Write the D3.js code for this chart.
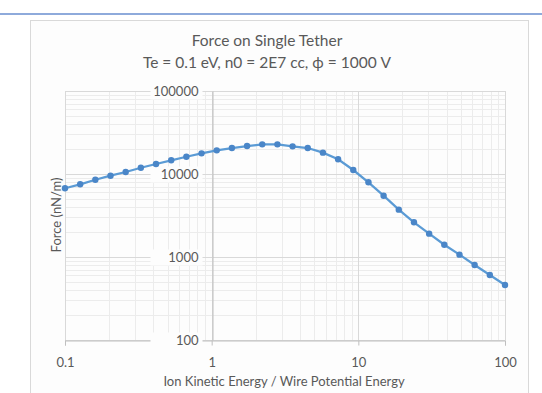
<!DOCTYPE html>
<html>
<head>
<meta charset="utf-8">
<script src="https://cdn.jsdelivr.net/npm/d3@7"></script>
<style>
  body { margin: 0; background: #fff; }
  text { font-family: Lato, "Open Sans", sans-serif; fill: #595959; }
</style>
</head>
<body>
<div id="container"></div>
<script>
// ratio of ion kinetic energy to wire potential energy
const energyRatio = [0.1, 0.1269, 0.161, 0.2043, 0.2593, 0.329, 0.4175, 0.5298, 0.6723, 0.8532,
  1.083, 1.374, 1.743, 2.212, 2.807, 3.562, 4.52, 5.736, 7.279, 9.237,
  11.72, 14.87, 18.87, 23.95, 30.39, 38.57, 48.94, 62.1, 78.8, 100];
// force, nN/m
const force = [6730, 7510, 8530, 9540, 10570, 11900, 13190, 14620, 16150, 17740,
  19280, 20550, 21730, 22760, 22760, 21520, 20550, 18070, 15030, 11170,
  7940, 5480, 3720, 2620, 1910, 1406, 1067, 802, 607, 460];
const xTicks = [0.1, 1, 10, 100];
const yTicks = [100, 1000, 10000, 100000];

var width = 542, height = 393;
var margin = { top: 91, right: 37, bottom: 53, left: 65 };

var svg = d3.select('#container').append('svg').attr('width', width).attr('height', height);

// top blue rule and chart frame
svg.append('rect').attr('x', 0).attr('y', 13).attr('width', width).attr('height', 2).attr('fill', '#8eaadb');
svg.append('rect').attr('x', 30.5).attr('y', 20.5).attr('width', 498).attr('height', 380)
  .attr('fill', '#fdfdfd').attr('stroke', '#d9d9d9');

var x = d3.scaleLog().domain([0.1, 100]).range([margin.left, width - margin.right]);
var y = d3.scaleLog().domain([100, 100000]).range([height - margin.bottom, margin.top]);

// minor grid
var minorX = [], minorY = [];
[0.1, 1, 10].forEach(function (d) { for (var k = 2; k < 10; k++) minorX.push(d * k); });
[100, 1000, 10000].forEach(function (d) { for (var k = 2; k < 10; k++) minorY.push(d * k); });

var grid = svg.append('g');
grid.selectAll('.mx').data(minorX).enter().append('line')
  .attr('x1', d => Math.round(x(d)) + 0.5).attr('x2', d => Math.round(x(d)) + 0.5)
  .attr('y1', y(100)).attr('y2', y(100000)).attr('stroke', '#ececec');
grid.selectAll('.my').data(minorY).enter().append('line')
  .attr('y1', d => Math.round(y(d)) + 0.5).attr('y2', d => Math.round(y(d)) + 0.5)
  .attr('x1', x(0.1)).attr('x2', x(100)).attr('stroke', '#ececec');
grid.selectAll('.Mx').data(xTicks).enter().append('line')
  .attr('x1', d => Math.round(x(d)) + 0.5).attr('x2', d => Math.round(x(d)) + 0.5)
  .attr('y1', y(100)).attr('y2', y(100000)).attr('stroke', '#d9d9d9');
grid.selectAll('.My').data(yTicks).enter().append('line')
  .attr('y1', d => Math.round(y(d)) + 0.5).attr('y2', d => Math.round(y(d)) + 0.5)
  .attr('x1', x(0.1)).attr('x2', x(100)).attr('stroke', '#d9d9d9');

// x axis along the bottom
var xAxis = d3.axisBottom(x).tickValues(xTicks).tickFormat(d3.format('')).tickSize(5).tickPadding(12);
var gx = svg.append('g').attr('transform', 'translate(0,' + (Math.round(y(100)) + 0.5) + ')').call(xAxis);
gx.select('.domain').attr('stroke', '#bfbfbf');
gx.selectAll('.tick line').attr('stroke', '#bfbfbf');
gx.selectAll('.tick text').style('font-size', '13px').style('fill', '#595959');

// y axis crosses at x = 1
var yAxis = d3.axisLeft(y).tickValues(yTicks).tickFormat(d3.format('')).tickSize(0).tickPadding(14);
var gy = svg.append('g').attr('transform', 'translate(' + (Math.round(x(1)) + 0.5) + ',0)').call(yAxis);
gy.select('.domain').attr('stroke', '#bfbfbf');
gy.selectAll('.tick text').style('font-size', '13px').style('fill', '#595959');
gy.selectAll('.tick').insert('rect', 'text')
  .attr('x', -62).attr('y', -8).attr('width', 52).attr('height', 16).attr('fill', '#fdfdfd');

// series
var line = d3.line().x((d, i) => x(energyRatio[i])).y(d => y(d));
svg.append('path').datum(force).attr('d', line).attr('fill', 'none')
  .attr('stroke', '#5b9bd5').attr('stroke-width', 2.25);
svg.selectAll('.dot').data(force).enter().append('circle')
  .attr('cx', (d, i) => x(energyRatio[i])).attr('cy', d => y(d)).attr('r', 3.2)
  .attr('fill', '#4a86c8');

// titles
svg.append('text').attr('x', 267).attr('y', 46).attr('text-anchor', 'middle')
  .style('font-size', '15.5px').text('Force on Single Tether');
svg.append('text').attr('x', 267).attr('y', 68).attr('text-anchor', 'middle')
  .style('font-size', '15.5px').text('Te = 0.1 eV, n0 = 2E7 cc, \u03D5 = 1000 V');
svg.append('text').attr('x', 284).attr('y', 386).attr('text-anchor', 'middle')
  .style('font-size', '13px').text('Ion Kinetic Energy / Wire Potential Energy');
svg.append('text').attr('transform', 'translate(61,215) rotate(-90)').attr('text-anchor', 'middle')
  .style('font-size', '13px').text('Force (nN/m)');
</script>
</body>
</html>
